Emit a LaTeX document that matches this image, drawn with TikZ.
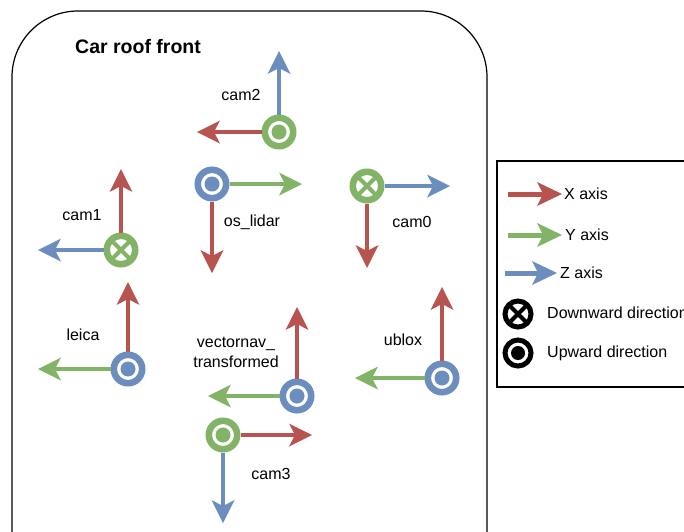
\documentclass[tikz,border=0pt]{standalone}
\usepackage{fontspec}
\setmainfont{Liberation Sans}
\usetikzlibrary{arrows.meta}
\definecolor{xred}{HTML}{B85450}
\definecolor{ygreen}{HTML}{82B366}
\definecolor{zblue}{HTML}{6C8EBF}
\begin{document}
\begin{tikzpicture}[x=1pt,y=-1pt,
  axis/.style={draw=#1, line width=4.5pt,
    -{Stealth[length=23pt,width=23pt,inset=6pt,line width=0pt,fill=#1,color=#1]}},
  legaxis/.style={draw=#1, line width=5pt,
    -{Stealth[length=25pt,width=24pt,inset=6pt,line width=0pt,fill=#1,color=#1]}},
  ring/.style={circle, draw=#1, line width=6.6pt, fill=white,
    minimum size=28.4pt, inner sep=0pt, outer sep=3.3pt},
  updot/.style={ring=#1, path picture={\fill[#1] (path picture bounding box.center) circle[radius=7.5pt];}},
  downx/.style={ring=#1, path picture={\draw[#1, line width=4pt]
    ([shift={(-9pt,-9pt)}]path picture bounding box.center) -- ([shift={(9pt,9pt)}]path picture bounding box.center)
    ([shift={(-9pt,9pt)}]path picture bounding box.center) -- ([shift={(9pt,-9pt)}]path picture bounding box.center);}},
  legring/.style={circle, draw=black, line width=5pt, fill=white,
    minimum size=26pt, inner sep=0pt, outer sep=2.5pt},
  legdot/.style={legring, path picture={\fill[black] (path picture bounding box.center) circle[radius=7pt];}},
  legx/.style={legring, path picture={\draw[black, line width=4pt]
    ([shift={(-9pt,-9pt)}]path picture bounding box.center) -- ([shift={(9pt,9pt)}]path picture bounding box.center)
    ([shift={(-9pt,9pt)}]path picture bounding box.center) -- ([shift={(9pt,-9pt)}]path picture bounding box.center);}},
  lbl/.style={font=\fontsize{16}{20}\selectfont, inner sep=0pt, text=black},
  leglbl/.style={lbl, anchor=west}
]
\useasboundingbox (0,0) rectangle (684,531);
\clip (0,0) rectangle (684,531);

% outer frame and legend box
\draw[line width=1.2pt, rounded corners=66pt] (12,11) rectangle (487,640);
\draw[line width=1.2pt] (497,161) rectangle (700,387);

\node[anchor=west, inner sep=0pt, font=\bfseries\fontsize{19.5}{23}\selectfont] (title) at (75,47) {Car roof front};

% cam2
\node[updot=ygreen] (cam2) at (279,132) {};
\coordinate (cam2z) at (279,51);
\coordinate (cam2x) at (197,132);
\draw[axis=zblue] (cam2) -- (cam2z);
\draw[axis=xred] (cam2) -- (cam2x);
\node[lbl] (cam2l) at (241,95) {cam2};

% os_lidar
\node[updot=zblue] (lidar) at (212,184) {};
\coordinate (lidary) at (302,184);
\coordinate (lidarx) at (212,273);
\draw[axis=ygreen] (lidar) -- (lidary);
\draw[axis=xred] (lidar) -- (lidarx);
\node[lbl] (lidarl) at (252,222) {os\_lidar};

% cam0
\node[downx=ygreen] (cam0) at (367,186) {};
\coordinate (cam0z) at (450,186);
\coordinate (cam0x) at (367,268);
\draw[axis=zblue] (cam0) -- (cam0z);
\draw[axis=xred] (cam0) -- (cam0x);
\node[lbl] (cam0l) at (412,222) {cam0};

% cam1
\node[downx=ygreen] (cam1) at (121,250) {};
\coordinate (cam1x) at (121,169);
\coordinate (cam1z) at (38,250);
\draw[axis=xred] (cam1) -- (cam1x);
\draw[axis=zblue] (cam1) -- (cam1z);
\node[lbl] (cam1l) at (82,215) {cam1};

% leica
\node[updot=zblue] (leica) at (128,369) {};
\coordinate (leicax) at (128,282);
\coordinate (leicay) at (38,369);
\draw[axis=xred] (leica) -- (leicax);
\draw[axis=ygreen] (leica) -- (leicay);
\node[lbl] (leical) at (83,335) {leica};

% vectornav_transformed
\node[updot=zblue] (vn) at (297,396) {};
\coordinate (vnx) at (297,307);
\coordinate (vny) at (208,396);
\draw[axis=xred] (vn) -- (vnx);
\draw[axis=ygreen] (vn) -- (vny);
\node[lbl, align=center] (vnl) at (236,352) {vectornav\_\\transformed};

% cam3
\node[updot=ygreen] (cam3) at (223,435) {};
\coordinate (cam3x) at (312,435);
\coordinate (cam3z) at (223,523);
\draw[axis=xred] (cam3) -- (cam3x);
\draw[axis=zblue] (cam3) -- (cam3z);
\node[lbl] (cam3l) at (271,474) {cam3};

% ublox
\node[updot=zblue] (ublox) at (442,378) {};
\coordinate (ubloxx) at (442,287);
\coordinate (ubloxy) at (355,378);
\draw[axis=xred] (ublox) -- (ubloxx);
\draw[axis=ygreen] (ublox) -- (ubloxy);
\node[lbl] (ubloxl) at (403,340) {ublox};

% legend
\coordinate (lxa) at (508,194); \coordinate (lxb) at (562,194);
\coordinate (lya) at (508,235); \coordinate (lyb) at (562,235);
\coordinate (lza) at (505,273); \coordinate (lzb) at (557,273);
\draw[legaxis=xred] (lxa) -- (lxb);
\draw[legaxis=ygreen] (lya) -- (lyb);
\draw[legaxis=zblue] (lza) -- (lzb);
\node[leglbl] (lxl) at (564,194) {X axis};
\node[leglbl] (lyl) at (565,235) {Y axis};
\node[leglbl] (lzl) at (560,273) {Z axis};
\node[legx] (ldown) at (518,314) {};
\node[legdot] (lup) at (518,353) {};
\node[leglbl] (ldownl) at (547,313) {Downward direction};
\node[leglbl] (lupl) at (547,353) {Upward direction};
\end{tikzpicture}
\end{document}
